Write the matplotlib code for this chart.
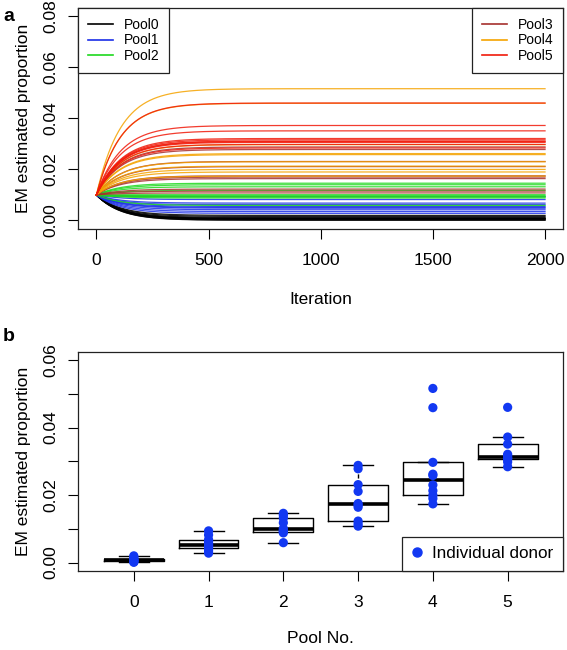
import matplotlib
matplotlib.use("Agg")
import matplotlib.pyplot as plt
import numpy as np
from matplotlib.lines import Line2D

plt.rcParams["font.family"] = ["Liberation Sans", "DejaVu Sans"]

# EM estimated proportion per individual donor (final values)
pool0 = [0.0020, 0.0016, 0.0012, 0.0009, 0.0008, 0.0007, 0.0006, 0.0004, 0.0002, 0.0001]
pool1 = [0.0094, 0.0082, 0.0068, 0.0062, 0.0055, 0.0051, 0.0048, 0.0042, 0.0035, 0.0028]
pool2 = [0.0146, 0.0140, 0.0132, 0.0118, 0.0101, 0.0097, 0.0093, 0.0092, 0.0088, 0.0059]
pool3 = [0.0288, 0.0278, 0.0231, 0.0211, 0.0175, 0.0170, 0.0164, 0.0123, 0.0115, 0.0108]
pool4 = [0.0516, 0.0459, 0.0297, 0.0262, 0.0258, 0.0230, 0.0213, 0.0200, 0.0190, 0.0174]
pool5 = [0.0460, 0.0372, 0.0351, 0.0321, 0.0316, 0.0311, 0.0309, 0.0306, 0.0298, 0.0284]

pools = [pool0, pool1, pool2, pool3, pool4, pool5]
pool_names = ["Pool0", "Pool1", "Pool2", "Pool3", "Pool4", "Pool5"]
pool_colors = ["#000000", "#1a2ee8", "#1ed81e", "#a5302d", "#f5a300", "#f01a0a"]
pool_ticks = ["0", "1", "2", "3", "4", "5"]

# EM run settings
start_prop = 0.01
n_iter = 2000
conv_scale = 108.0  # iterations per e-fold towards the fixed point

donor_color = "#1238f2"


def fivenum(x):
    # Tukey five-number summary, as R's boxplot uses
    x = np.sort(np.asarray(x))
    n = len(x)
    n4 = np.floor((n + 3) / 2) / 2
    d = np.array([1, n4, (n + 1) / 2, n + 1 - n4, n]) - 1
    return 0.5 * (x[np.floor(d).astype(int)] + x[np.ceil(d).astype(int)])


def box_stats(x):
    x = np.asarray(x)
    _, q1, med, q3, _ = fivenum(x)
    iqr = q3 - q1
    inside = x[(x >= q1 - 1.5 * iqr) & (x <= q3 + 1.5 * iqr)]
    return dict(med=med, q1=q1, q3=q3, whislo=inside.min(), whishi=inside.max(), fliers=[])


def frame_legend(leg):
    leg.get_frame().set_edgecolor("#222222")
    leg.get_frame().set_linewidth(0.9)


fig = plt.figure(figsize=(5.67, 6.5), dpi=100)

# ---- panel a: convergence of EM ----
ax1 = fig.add_axes([0.1384, 0.6482, 0.8545, 0.3395])
it = np.arange(0, n_iter + 1)
for vals, col in zip(pools, pool_colors):
    for v in vals:
        curve = v + (start_prop - v) * np.exp(-it / conv_scale)
        ax1.plot(it, curve, color=col, lw=0.9, alpha=0.85)

ax1.set_xlim(-80, 2080)
ax1.set_ylim(-0.0032, 0.0832)
ax1.set_xticks([0, 500, 1000, 1500, 2000])
ax1.set_yticks([0, 0.02, 0.04, 0.06, 0.08])
ax1.set_yticklabels(["%.2f" % t for t in [0, 0.02, 0.04, 0.06, 0.08]],
                    rotation=90, va="center")
ax1.set_xlabel("Iteration", fontsize=12.5, labelpad=17)
ax1.set_ylabel("EM estimated proportion", fontsize=12.5, labelpad=9)

handles = [Line2D([], [], color=c, lw=1.2) for c in pool_colors]
leg_kw = dict(fontsize=10, frameon=True, fancybox=False, borderaxespad=0,
              handlelength=1.75, handletextpad=0.8, labelspacing=0.12,
              borderpad=0.7, framealpha=1)
leg1 = ax1.legend(handles[:3], pool_names[:3], loc="upper left", **leg_kw)
frame_legend(leg1)
ax1.add_artist(leg1)
leg2 = ax1.legend(handles[3:], pool_names[3:], loc="upper right", **leg_kw)
frame_legend(leg2)

# ---- panel b: per pool boxplots ----
ax2 = fig.add_axes([0.1384, 0.1220, 0.8545, 0.3365])
positions = np.arange(len(pools))
stats = [box_stats(v) for v in pools]
ax2.bxp(stats, positions=positions, widths=0.8, showfliers=False,
        boxprops=dict(color="black", lw=1.0),
        medianprops=dict(color="black", lw=2.6),
        whiskerprops=dict(color="black", lw=1.0, linestyle=(0, (3, 2))),
        capprops=dict(color="black", lw=1.0), capwidths=0.4)
for p, vals in zip(positions, pools):
    ax2.scatter(np.full(len(vals), p), vals, s=44, color=donor_color, zorder=3,
                edgecolors="none")

ax2.set_xlim(-0.74, 5.74)
ax2.set_ylim(-0.0024, 0.0624)
ax2.set_xticks(positions)
ax2.set_xticklabels(pool_ticks)
ax2.set_yticks([0, 0.01, 0.02, 0.03, 0.04, 0.05, 0.06])
ax2.set_yticklabels(["0.00", "", "0.02", "", "0.04", "", "0.06"],
                    rotation=90, va="center")
ax2.set_xlabel("Pool No.", fontsize=12.5, labelpad=15)
ax2.set_ylabel("EM estimated proportion", fontsize=12.5, labelpad=9)

dot = Line2D([], [], marker="o", color=donor_color, linestyle="none", markersize=6.5)
leg3 = ax2.legend([dot], ["Individual donor"], loc="lower right", fontsize=12.3,
                  frameon=True, fancybox=False, borderaxespad=0, handlelength=0.6,
                  handletextpad=0.6, borderpad=0.55, framealpha=1)
frame_legend(leg3)

for ax in (ax1, ax2):
    for s in ax.spines.values():
        s.set_linewidth(0.9)
        s.set_color("#222222")
    ax.tick_params(axis="both", length=7.5, width=0.8, labelsize=12.5)
    ax.tick_params(axis="x", pad=10)
    ax.tick_params(axis="y", pad=7)

fig.text(0.006, 0.987, "a", fontsize=14, fontweight="bold", va="top")
fig.text(0.004, 0.495, "b", fontsize=14, fontweight="bold", va="top")

fig.savefig("out.png", dpi=100)
